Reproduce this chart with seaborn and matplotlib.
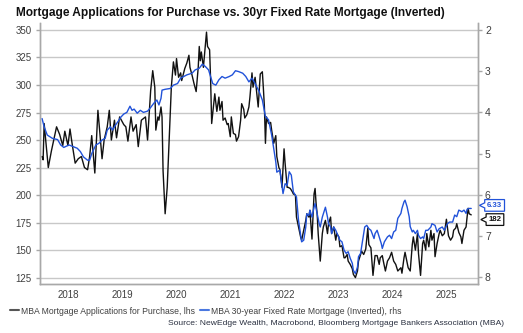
import numpy as np
import pandas as pd
import matplotlib
matplotlib.use("Agg")
import matplotlib.pyplot as plt
import matplotlib.dates as mdates
from matplotlib.path import Path
from matplotlib.lines import Line2D
import seaborn as sns

# ---------------- data (weeks since 2018-01-03) ----------------
black_weeks = [0, 1, 2, 6, 9, 14, 17, 20, 22, 25, 27, 29, 32, 35, 38, 41, 44, 46, 48, 51,
               54, 56, 58, 60, 63, 65, 67, 70, 72, 75, 79, 81, 83, 86, 88, 91, 93, 96, 100, 102,
               105, 107, 109, 110, 112, 113, 115, 116, 117, 119, 121, 123, 125, 127, 129, 130, 132, 134, 135, 138,
               140, 142, 143, 145, 147, 149, 151, 152, 153, 154, 156, 158, 159, 160, 162, 163, 164, 166, 167, 169,
               171, 172, 174, 175, 177, 179, 180, 182, 183, 185, 187, 188, 190, 192, 193, 195, 196, 198, 200, 201,
               203, 204, 206, 208, 209, 211, 213, 214, 215, 216, 217, 219, 221, 222, 224, 226, 227, 229, 230, 232,
               234, 235, 237, 238, 240, 242, 243, 245, 246, 248, 250, 251, 253, 255, 256, 258, 259, 261, 263, 264,
               265, 266, 267, 269, 271, 272, 274, 276, 277, 279, 280, 282, 284, 285, 287, 288, 290, 292, 293, 295,
               296, 298, 300, 301, 303, 305, 306, 308, 309, 311, 313, 315, 316, 318, 320, 322, 324, 326, 327, 329,
               330, 332, 334, 336, 338, 340, 342, 344, 347, 348, 350, 351, 354, 356, 358, 359, 361, 363, 364, 366,
               368, 369, 371, 372, 374, 376, 377, 379, 380, 382, 384, 385, 387, 389, 391, 393, 395, 397, 398, 400,
               401, 403, 405, 406, 408, 410, 411, 412, 413, 415]
black_vals = [235, 232, 265, 225, 240, 262, 255, 245, 258, 245, 260, 247, 229, 233, 235, 225, 223, 235, 254, 220,
              277, 255, 233, 250, 262, 277, 250, 268, 252, 271, 264, 262, 249, 271, 258, 264, 244, 268, 271, 250,
              295, 313, 298, 259, 271, 268, 280, 271, 222, 183, 207, 253, 298, 321, 309, 324, 307, 311, 304, 315,
              320, 327, 316, 309, 301, 294, 316, 335, 322, 330, 316, 338, 348, 335, 332, 304, 265, 283, 292, 276,
              289, 277, 285, 268, 270, 264, 265, 253, 271, 256, 255, 249, 253, 268, 283, 278, 270, 273, 280, 289,
              311, 298, 307, 289, 280, 310, 312, 297, 280, 247, 271, 265, 266, 259, 247, 254, 235, 225, 223, 207,
              242, 229, 207, 207, 206, 203, 201, 200, 180, 171, 162, 159, 168, 177, 183, 180, 186, 160, 201, 206,
              192, 183, 165, 140, 165, 171, 177, 165, 174, 180, 165, 171, 159, 165, 162, 153, 154, 143, 143, 146,
              140, 137, 133, 128, 125, 131, 140, 146, 149, 146, 151, 170, 155, 152, 127, 145, 145, 137, 143, 145,
              140, 131, 140, 143, 148, 140, 137, 131, 134, 129, 143, 148, 134, 131, 155, 162, 150, 165, 147, 127,
              156, 159, 150, 165, 153, 168, 159, 165, 144, 156, 165, 168, 163, 165, 178, 163, 159, 162, 168, 170,
              174, 166, 162, 156, 168, 171, 180, 188, 183, 182]

blue_weeks = [0, 2, 5, 10, 15, 18, 21, 26, 29, 34, 37, 40, 44, 46, 48, 52, 55, 58, 61, 63,
              66, 68, 71, 74, 76, 79, 82, 85, 87, 89, 92, 95, 98, 102, 105, 108, 111, 113, 115, 116,
              119, 124, 127, 131, 134, 137, 140, 145, 148, 152, 155, 158, 161, 165, 168, 171, 174, 177, 181, 184,
              187, 190, 194, 197, 200, 203, 206, 210, 213, 216, 219, 222, 226, 227, 230, 233, 235, 237, 239, 241,
              243, 246, 248, 251, 253, 255, 256, 258, 259, 261, 263, 264, 266, 268, 269, 271, 272, 274, 276, 277,
              279, 280, 282, 284, 286, 288, 290, 292, 294, 296, 298, 300, 301, 303, 305, 306, 308, 310, 312, 314,
              316, 318, 321, 322, 324, 326, 328, 329, 331, 334, 336, 338, 340, 342, 344, 347, 348, 350, 351, 353,
              355, 356, 358, 359, 361, 363, 364, 366, 368, 369, 371, 373, 376, 377, 380, 382, 384, 387, 389, 392,
              394, 397, 399, 401, 403, 406, 408, 410, 411, 413, 415]
blue_vals = [4.15, 4.35, 4.55, 4.63, 4.66, 4.79, 4.85, 4.79, 4.82, 4.87, 4.95, 5.08, 5.16, 5.16, 5.00, 4.79, 4.75, 4.67, 4.63, 4.43,
             4.35, 4.43, 4.31, 4.20, 4.12, 4.04, 4.00, 3.85, 3.95, 3.92, 4.02, 3.95, 4.00, 3.97, 3.88, 3.78, 3.70, 3.82, 3.66, 3.46,
             3.44, 3.42, 3.34, 3.30, 3.17, 3.13, 3.09, 3.05, 2.97, 2.93, 2.83, 2.89, 2.97, 3.30, 3.34, 3.21, 3.13, 3.17, 3.13, 3.09,
             2.99, 3.01, 3.05, 3.13, 3.26, 3.17, 3.30, 3.50, 3.70, 4.10, 4.18, 4.55, 5.20, 5.45, 5.40, 5.97, 5.73, 5.77, 5.44, 5.52,
             5.93, 6.05, 6.62, 7.14, 7.10, 6.78, 6.46, 6.50, 6.37, 6.54, 6.30, 6.21, 6.46, 6.70, 6.78, 6.54, 6.46, 6.30, 6.54, 6.70,
             6.78, 6.94, 6.78, 6.86, 6.98, 7.10, 7.14, 7.34, 7.42, 7.38, 7.54, 7.66, 7.83, 7.91, 7.75, 7.50, 7.42, 7.10, 6.78, 6.74,
             6.82, 6.86, 7.06, 6.94, 6.86, 7.02, 7.18, 7.30, 7.14, 7.02, 6.98, 7.06, 6.90, 6.86, 6.57, 6.45, 6.33, 6.17, 6.13, 6.29,
             6.53, 6.77, 6.90, 6.86, 6.94, 6.86, 6.98, 7.06, 7.02, 7.06, 6.86, 6.86, 6.78, 6.70, 6.74, 6.90, 6.82, 6.78, 6.86, 6.70,
             6.66, 6.66, 6.49, 6.53, 6.37, 6.41, 6.37, 6.45, 6.35, 6.33, 6.33]

lhs_ticks = [125, 150, 175, 200, 225, 250, 275, 300, 325, 350]
rhs_ticks = [2, 3, 4, 5, 6, 7, 8]

title = "Mortgage Applications for Purchase vs. 30yr Fixed Rate Mortgage (Inverted)"
black_label = "MBA Mortgage Applications for Purchase, lhs"
blue_label = "MBA 30-year Fixed Rate Mortgage (Inverted), rhs"
source = "Source: NewEdge Wealth, Macrobond, Bloomberg Mortgage Bankers Association (MBA)"

start = pd.Timestamp("2018-01-03")
df_black = pd.DataFrame({"date": start + pd.to_timedelta(np.array(black_weeks) * 7, unit="D"),
                         "value": black_vals})
df_blue = pd.DataFrame({"date": start + pd.to_timedelta(np.array(blue_weeks) * 7, unit="D"),
                        "value": blue_vals})

# ---------------- style ----------------
sns.set_style("white")
plt.rcParams["font.family"] = ["Liberation Sans", "DejaVu Sans"]

BLACK = "#111111"
BLUE = "#2152d9"
GRID = "#c8c8c8"
SPINE = "#a8a8a8"
TXT = "#404040"

fig = plt.figure(figsize=(5.23, 3.33), dpi=100)
ax = fig.add_axes([0.0765, 0.1462, 0.8375, 0.785])
ax2 = ax.twinx()

sns.lineplot(data=df_black, x="date", y="value", ax=ax, color=BLACK, lw=1.0, estimator=None)
sns.lineplot(data=df_blue, x="date", y="value", ax=ax2, color=BLUE, lw=1.0, estimator=None)

ax.set_ylim(118.9, 356.4)
ax.set_yticks(lhs_ticks)
ax2.set_ylim(8.17, 1.83)
ax2.set_yticks(rhs_ticks)
ax.set_xlim(pd.Timestamp("2017-12-20"), pd.Timestamp("2026-02-01"))

ax.yaxis.grid(True, color=GRID, lw=1.0)
ax.set_axisbelow(True)
ax.set_xlabel("")
ax.set_ylabel("")
ax2.set_ylabel("")

ax.xaxis.set_major_locator(mdates.YearLocator())
ax.xaxis.set_major_formatter(plt.NullFormatter())
ax.xaxis.set_minor_locator(mdates.YearLocator(month=7, day=1))
ax.xaxis.set_minor_formatter(mdates.DateFormatter("%Y"))

for a in (ax, ax2):
    a.spines["top"].set_visible(False)
    for s in ("left", "right", "bottom"):
        a.spines[s].set_color(SPINE)
        a.spines[s].set_linewidth(1.0)

ax.tick_params(axis="x", which="major", length=3, width=1, color=SPINE, direction="out")
ax.tick_params(axis="x", which="minor", length=0, labelsize=7, labelcolor=TXT, pad=4)
ax.tick_params(axis="y", length=3, width=1, color=SPINE, labelsize=7, labelcolor=TXT, pad=3, direction="out")
ax2.tick_params(axis="y", length=3, width=1, color=SPINE, labelsize=7.5, labelcolor=TXT, pad=2, direction="out")

# title
fig.text(16 / 523, 1 - 13 / 333, title, ha="left", va="center", fontsize=8.55, fontweight="bold", color="#111111")

# legend
handles = [Line2D([0], [0], color="#555555", lw=1.5), Line2D([0], [0], color="#4a78e0", lw=1.5)]
fig.legend(handles, [black_label, blue_label], loc="center left", bbox_to_anchor=(10 / 523, 1 - 311 / 333),
           ncol=2, frameon=False, fontsize=6.2, handlelength=1.1, handletextpad=0.2, columnspacing=0.5,
           labelcolor=TXT, borderaxespad=0, borderpad=0)

fig.text(504 / 523, 1 - 323.5 / 333, source, ha="right", va="center", fontsize=6.1, color="#2a3040")


# callout boxes on the right axis
def callout(x0, y0, width, height, mutation_size):
    pad = 0.3 * mutation_size
    x0, y0 = x0 - pad, y0 - pad
    w, h = width + 2 * pad, height + 2 * pad
    tip = 0.45 * h
    verts = [(x0, y0), (x0 + w, y0), (x0 + w, y0 + h), (x0, y0 + h),
             (x0, y0 + 0.72 * h), (x0 - tip, y0 + 0.5 * h), (x0, y0 + 0.28 * h), (x0, y0)]
    codes = [Path.MOVETO] + [Path.LINETO] * 6 + [Path.CLOSEPOLY]
    return Path(verts, codes)


last_blue = blue_vals[-1]
last_black = black_vals[-1]
ax2.annotate(f"{last_blue:.2f}", xy=(1, last_blue), xycoords=("axes fraction", "data"),
             xytext=(6.5, 2.2), textcoords="offset points", ha="left", va="center",
             fontsize=5.6, fontweight="bold", color=BLUE,
             bbox=dict(boxstyle=callout, fc="white", ec=BLUE, lw=0.9))
ax.annotate(f"{last_black:.0f}", xy=(1, last_black), xycoords=("axes fraction", "data"),
            xytext=(7.5, -3.4), textcoords="offset points", ha="left", va="center",
            fontsize=5.6, fontweight="bold", color=BLACK,
            bbox=dict(boxstyle=callout, fc="white", ec=BLACK, lw=0.9), zorder=10)

fig.savefig("out.png", dpi=100)
